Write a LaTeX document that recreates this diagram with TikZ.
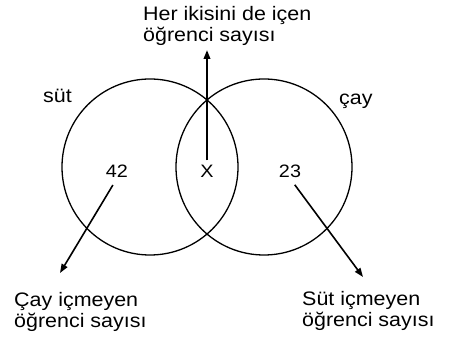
\documentclass[tikz,border=0pt]{standalone}
\usepackage{fontspec}
\setmainfont{Liberation Sans}[FakeStretch=1.1]
\usepackage{tikz}
\usetikzlibrary{positioning,arrows.meta,calc}

\begin{document}
\begin{tikzpicture}[
  x=1pt, y=1pt,
  set/.style={draw, circle, line width=1.3pt, minimum size=176pt, inner sep=0pt},
  lbl/.style={inner sep=0pt, font=\fontsize{19.5}{21.5}\selectfont, align=left},
  num/.style={inner sep=0pt, font=\fontsize{18}{21}\selectfont},
  arr/.style={-{Triangle[length=9pt,width=6.5pt]}, line width=1.6pt, shorten <=8pt}
]
\useasboundingbox (0,0) rectangle (452,342);
% the two sets
\node[set] (sut) at (150,175) {};
\node[set] (cay) at (264,175) {};
% set names
\node[lbl, anchor=base west] (sutname) at (43,239) {süt};
\node[lbl, anchor=base west] (cayname) at (339,237) {çay};
% counts
\node[num, anchor=base] (n42) at (117,164) {42};
\node[num, anchor=base] (nx) at (207,164) {X};
\node[num, anchor=base] (n23) at (290,164) {23};
% captions (base = last line)
\node[lbl, anchor=base west] (both) at (143,300) {Her ikisini de içen\\öğrenci sayısı};
\node[lbl, anchor=base west] (nocay) at (14,14) {Çay içmeyen\\öğrenci sayısı};
\node[lbl, anchor=base west] (nosut) at (302,15) {Süt içmeyen\\öğrenci sayısı};
\coordinate (tipboth) at (207,292);
\coordinate (tipnocay) at (60,69);
\coordinate (tipnosut) at (363,65);
\draw[arr, line width=2pt, shorten <=5pt] (nx.north) -- (tipboth);
\draw[arr] (n42.south) -- (tipnocay);
\draw[arr] (n23.south) -- (tipnosut);
\end{tikzpicture}
\end{document}
